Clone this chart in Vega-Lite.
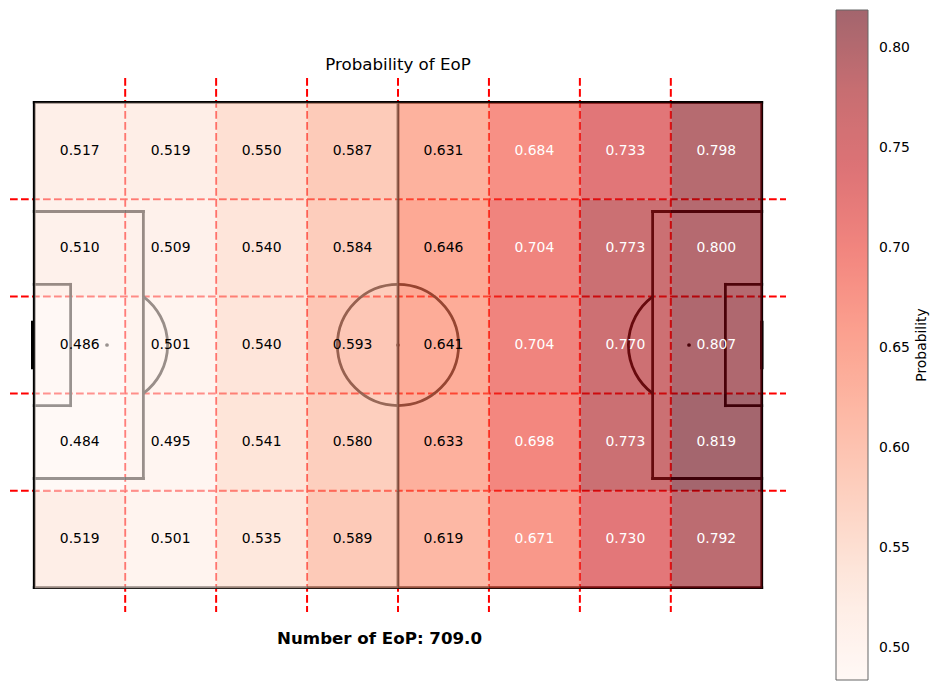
{
  "$schema": "https://vega.github.io/schema/vega-lite/v6.json",
  "width": 776,
  "height": 534,
  "autosize": "none",
  "padding": {"left": 10, "top": 78, "right": 152, "bottom": 78},
  "title": {
    "text": "Probability of EoP",
    "frame": "group",
    "anchor": "middle",
    "baseline": "alphabetic",
    "offset": 0,
    "dy": 76.5,
    "fontSize": 16.67,
    "fontWeight": "normal",
    "color": "black"
  },
  "datasets": {
    "zones": [
      {"cx": 7.5, "cy": 8, "prob": 0.517},
      {"cx": 22.5, "cy": 8, "prob": 0.519},
      {"cx": 37.5, "cy": 8, "prob": 0.550},
      {"cx": 52.5, "cy": 8, "prob": 0.587},
      {"cx": 67.5, "cy": 8, "prob": 0.631},
      {"cx": 82.5, "cy": 8, "prob": 0.684},
      {"cx": 97.5, "cy": 8, "prob": 0.733},
      {"cx": 112.5, "cy": 8, "prob": 0.798},
      {"cx": 7.5, "cy": 24, "prob": 0.510},
      {"cx": 22.5, "cy": 24, "prob": 0.509},
      {"cx": 37.5, "cy": 24, "prob": 0.540},
      {"cx": 52.5, "cy": 24, "prob": 0.584},
      {"cx": 67.5, "cy": 24, "prob": 0.646},
      {"cx": 82.5, "cy": 24, "prob": 0.704},
      {"cx": 97.5, "cy": 24, "prob": 0.773},
      {"cx": 112.5, "cy": 24, "prob": 0.800},
      {"cx": 7.5, "cy": 40, "prob": 0.486},
      {"cx": 22.5, "cy": 40, "prob": 0.501},
      {"cx": 37.5, "cy": 40, "prob": 0.540},
      {"cx": 52.5, "cy": 40, "prob": 0.593},
      {"cx": 67.5, "cy": 40, "prob": 0.641},
      {"cx": 82.5, "cy": 40, "prob": 0.704},
      {"cx": 97.5, "cy": 40, "prob": 0.770},
      {"cx": 112.5, "cy": 40, "prob": 0.807},
      {"cx": 7.5, "cy": 56, "prob": 0.484},
      {"cx": 22.5, "cy": 56, "prob": 0.495},
      {"cx": 37.5, "cy": 56, "prob": 0.541},
      {"cx": 52.5, "cy": 56, "prob": 0.580},
      {"cx": 67.5, "cy": 56, "prob": 0.633},
      {"cx": 82.5, "cy": 56, "prob": 0.698},
      {"cx": 97.5, "cy": 56, "prob": 0.773},
      {"cx": 112.5, "cy": 56, "prob": 0.819},
      {"cx": 7.5, "cy": 72, "prob": 0.519},
      {"cx": 22.5, "cy": 72, "prob": 0.501},
      {"cx": 37.5, "cy": 72, "prob": 0.535},
      {"cx": 52.5, "cy": 72, "prob": 0.589},
      {"cx": 67.5, "cy": 72, "prob": 0.619},
      {"cx": 82.5, "cy": 72, "prob": 0.671},
      {"cx": 97.5, "cy": 72, "prob": 0.730},
      {"cx": 112.5, "cy": 72, "prob": 0.792}
    ],
    "grid": [
      {"x1": 15, "y1": -4, "x2": 15, "y2": 84},
      {"x1": 30, "y1": -4, "x2": 30, "y2": 84},
      {"x1": 45, "y1": -4, "x2": 45, "y2": 84},
      {"x1": 60, "y1": -4, "x2": 60, "y2": 84},
      {"x1": 75, "y1": -4, "x2": 75, "y2": 84},
      {"x1": 90, "y1": -4, "x2": 90, "y2": 84},
      {"x1": 105, "y1": -4, "x2": 105, "y2": 84},
      {"x1": -4, "y1": 16, "x2": 124, "y2": 16},
      {"x1": -4, "y1": 32, "x2": 124, "y2": 32},
      {"x1": -4, "y1": 48, "x2": 124, "y2": 48},
      {"x1": -4, "y1": 64, "x2": 124, "y2": 64}
    ],
    "pitch": [
      {"x1": 0, "y1": 0, "x2": 120, "y2": 0},
      {"x1": 120, "y1": 0, "x2": 120, "y2": 80},
      {"x1": 120, "y1": 80, "x2": 0, "y2": 80},
      {"x1": 0, "y1": 80, "x2": 0, "y2": 0},
      {"x1": 60, "y1": 0, "x2": 60, "y2": 80},
      {"x1": 0, "y1": 18, "x2": 18, "y2": 18},
      {"x1": 18, "y1": 18, "x2": 18, "y2": 62},
      {"x1": 18, "y1": 62, "x2": 0, "y2": 62},
      {"x1": 0, "y1": 30, "x2": 6, "y2": 30},
      {"x1": 6, "y1": 30, "x2": 6, "y2": 50},
      {"x1": 6, "y1": 50, "x2": 0, "y2": 50},
      {"x1": 120, "y1": 18, "x2": 102, "y2": 18},
      {"x1": 102, "y1": 18, "x2": 102, "y2": 62},
      {"x1": 102, "y1": 62, "x2": 120, "y2": 62},
      {"x1": 120, "y1": 30, "x2": 114, "y2": 30},
      {"x1": 114, "y1": 30, "x2": 114, "y2": 50},
      {"x1": 114, "y1": 50, "x2": 120, "y2": 50}
    ],
    "goals": [
      {"x1": -0.25, "y1": 36, "x2": -0.25, "y2": 44},
      {"x1": 120, "y1": 36, "x2": 120, "y2": 44}
    ],
    "arcs": [
      {"cx": 60, "cy": 40, "start": 0, "end": 6.2832},
      {"cx": 12, "cy": 40, "start": 0.6435, "end": 2.4981},
      {"cx": 108, "cy": 40, "start": 3.7851, "end": 5.6397}
    ],
    "spots": [
      {"x": 12, "y": 40},
      {"x": 60, "y": 40},
      {"x": 108, "y": 40}
    ],
    "note": [
      {"label": "Number of EoP: 709.0"}
    ]
  },
  "layer": [
    {
      "data": {"name": "grid"},
      "mark": {"type": "rule", "color": "#ff0000", "strokeWidth": 2, "strokeDash": [7.7, 3.3]},
      "encoding": {
        "x": {"field": "x1", "type": "quantitative", "scale": {"domain": [-4, 124], "nice": false, "zero": false}},
        "y": {"field": "y1", "type": "quantitative", "scale": {"domain": [-4, 84], "nice": false, "zero": false, "reverse": true}},
        "x2": {"field": "x2"},
        "y2": {"field": "y2"}
      }
    },
    {
      "data": {"name": "pitch"},
      "mark": {"type": "rule", "color": "black", "strokeWidth": 2.78, "strokeCap": "square"},
      "encoding": {
        "x": {"field": "x1", "type": "quantitative", "scale": {"domain": [-4, 124], "nice": false, "zero": false}},
        "y": {"field": "y1", "type": "quantitative", "scale": {"domain": [-4, 84], "nice": false, "zero": false, "reverse": true}},
        "x2": {"field": "x2"},
        "y2": {"field": "y2"}
      }
    },
    {
      "data": {"name": "goals"},
      "mark": {"type": "rule", "color": "black", "strokeWidth": 3.5},
      "encoding": {
        "x": {"field": "x1", "type": "quantitative", "scale": {"domain": [-4, 124], "nice": false, "zero": false}},
        "y": {"field": "y1", "type": "quantitative", "scale": {"domain": [-4, 84], "nice": false, "zero": false, "reverse": true}},
        "x2": {"field": "x2"},
        "y2": {"field": "y2"}
      }
    },
    {
      "data": {"name": "arcs"},
      "mark": {"type": "arc", "filled": false, "stroke": "black", "strokeWidth": 2.78, "innerRadius": 60.6, "outerRadius": 60.6},
      "encoding": {
        "x": {"field": "cx", "type": "quantitative", "scale": {"domain": [-4, 124], "nice": false, "zero": false}},
        "y": {"field": "cy", "type": "quantitative", "scale": {"domain": [-4, 84], "nice": false, "zero": false, "reverse": true}},
        "theta": {"field": "start", "type": "quantitative", "scale": null, "stack": null},
        "theta2": {"field": "end"}
      }
    },
    {
      "data": {"name": "spots"},
      "mark": {"type": "point", "filled": true, "color": "black", "size": 14, "opacity": 1},
      "encoding": {
        "x": {"field": "x", "type": "quantitative", "scale": {"domain": [-4, 124], "nice": false, "zero": false}},
        "y": {"field": "y", "type": "quantitative", "scale": {"domain": [-4, 84], "nice": false, "zero": false, "reverse": true}}
      }
    },
    {
      "data": {"name": "zones"},
      "mark": {"type": "rect", "opacity": 0.6},
      "encoding": {
        "x": {"field": "cx", "type": "quantitative", "bin": {"step": 15, "extent": [0, 120], "nice": false}, "scale": {"domain": [-4, 124], "nice": false, "zero": false}},
        "y": {"field": "cy", "type": "quantitative", "bin": {"step": 16, "extent": [0, 80], "nice": false}, "scale": {"domain": [-4, 84], "nice": false, "zero": false, "reverse": true}},
        "color": {
          "field": "prob",
          "type": "quantitative",
          "scale": {
            "domain": [0.484, 0.525875, 0.56775, 0.609625, 0.6515, 0.693375, 0.73525, 0.777125, 0.819],
            "range": ["#fff5f0", "#fee0d2", "#fcbba1", "#fc9272", "#fb6a4a", "#ef3b2c", "#cb181d", "#a50f15", "#67000d"],
            "interpolate": "rgb"
          },
          "legend": {
            "title": "Probability",
            "orient": "none",
            "legendX": 905,
            "legendY": -68,
            "direction": "vertical",
            "gradientLength": 670,
            "gradientThickness": 32,
            "gradientStrokeColor": "black",
            "gradientStrokeWidth": 1,
            "values": [0.5, 0.55, 0.6, 0.65, 0.7, 0.75, 0.8],
            "format": ".2f",
            "labelFontSize": 13.9,
            "labelColor": "black",
            "labelOffset": 11,
            "labelOverlap": false,
            "titleOrient": "left",
            "titleFontSize": 13.9,
            "titleFontWeight": "normal",
            "titleColor": "black",
            "titleAnchor": "middle",
            "titlePadding": -93,
            "padding": 0,
            "encode": {
              "gradient": {"opacity": {"value": 1}, "fillOpacity": {"value": 0.6}}
            }
          }
        }
      }
    },
    {
      "data": {"name": "zones"},
      "mark": {"type": "text", "fontSize": 13.9, "baseline": "middle", "align": "center"},
      "encoding": {
        "x": {"field": "cx", "type": "quantitative", "scale": {"domain": [-4, 124], "nice": false, "zero": false}},
        "y": {"field": "cy", "type": "quantitative", "scale": {"domain": [-4, 84], "nice": false, "zero": false, "reverse": true}},
        "text": {"field": "prob", "type": "quantitative", "format": ".3f"},
        "color": {"condition": {"test": "datum.prob > 0.65", "value": "white"}, "value": "black"}
      }
    },
    {
      "data": {"name": "note"},
      "mark": {"type": "text", "fontSize": 16.67, "fontWeight": "bold", "baseline": "alphabetic", "align": "center", "color": "black"},
      "encoding": {
        "x": {"datum": 56.95, "type": "quantitative", "scale": {"domain": [-4, 124], "nice": false, "zero": false}},
        "y": {"datum": 89.3, "type": "quantitative", "scale": {"domain": [-4, 84], "nice": false, "zero": false, "reverse": true}},
        "text": {"field": "label"}
      }
    }
  ],
  "config": {
    "font": "DejaVu Sans",
    "view": {"stroke": null},
    "axis": {"disable": true}
  }
}
